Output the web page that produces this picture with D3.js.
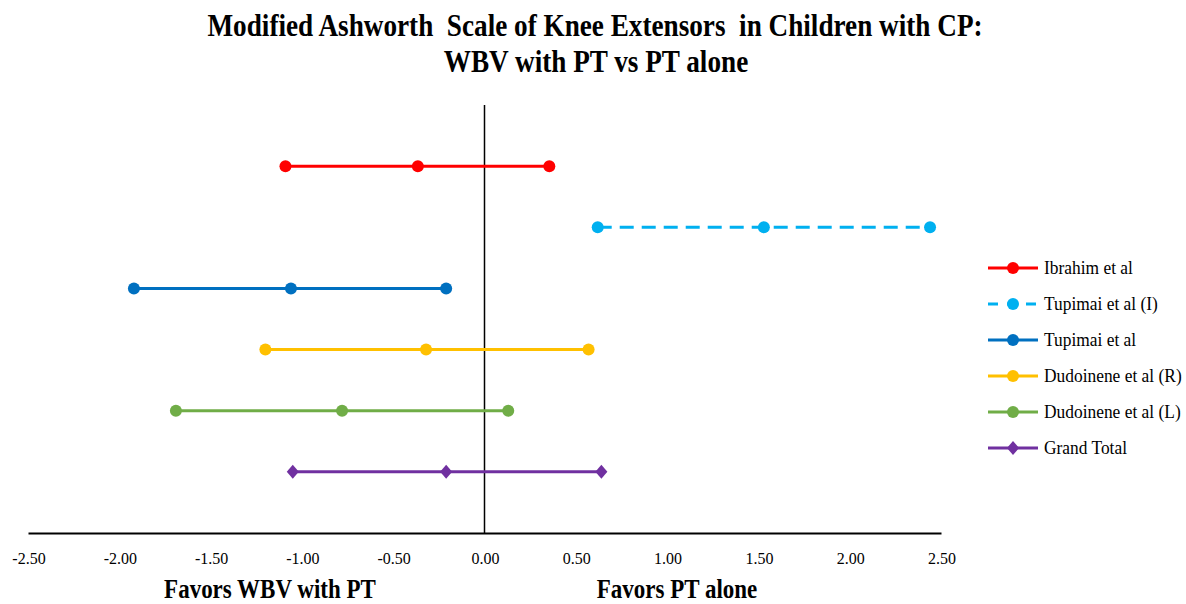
<!DOCTYPE html>
<html>
<head>
<meta charset="utf-8">
<script src="https://cdn.jsdelivr.net/npm/d3@7.9.0/dist/d3.min.js"></script>
<style>
  body { margin: 0; background: #fff; }
  svg { display: block; font-family: 'Liberation Serif', 'Times New Roman', serif; }
</style>
</head>
<body>
<div id="chart"></div>
<script>
// studies, top to bottom, with their row position on the hidden y axis
const studies = ['Ibrahim et al', 'Tupimai et al (I)', 'Tupimai et al', 'Dudoinene et al (R)', 'Dudoinene et al (L)', 'Grand Total'];
const rows = [6, 5, 4, 3, 2, 1];
// lower CI, mean difference, upper CI
const lower = [-1.09, 0.62, -1.92, -1.20, -1.69, -1.05];
const mean = [-0.365, 1.53, -1.06, -0.32, -0.78, -0.21];
const upper = [0.355, 2.44, -0.21, 0.57, 0.13, 0.64];
const colors = ['#FF0000', '#00B0F0', '#0070C0', '#FFC000', '#70AD47', '#7030A0'];
const xTicks = [-2.5, -2, -1.5, -1, -0.5, 0, 0.5, 1, 1.5, 2, 2.5];

const width = 1186;
const height = 604;

const svg = d3.select('#chart')
    .append('svg')
    .attr('width', width)
    .attr('height', height);

const xScale = d3.scaleLinear().domain([-2.5, 2.5]).range([28, 941]);
const yScale = d3.scaleLinear().domain([0, 7]).range([533, 105]);

// text in the original looks a bit stretched vertically, so scale it
function stretchedText(x, y, str, size, sy, anchor, bold) {
    const t = svg.append('g')
        .attr('transform', `translate(${x}, ${y}) scale(1, ${sy})`)
        .append('text')
        .attr('text-anchor', anchor)
        .attr('font-size', size)
        .text(str);
    if (bold) t.attr('font-weight', 'bold');
    return t;
}

// title
stretchedText(595, 36, 'Modified Ashworth  Scale of Knee Extensors  in Children with CP:', 27.2, 1.15, 'middle', true)
    .style('white-space', 'pre');
stretchedText(596, 72, 'WBV with PT vs PT alone', 27.2, 1.15, 'middle', true);

// x axis
const xAxis = svg.append('g')
    .attr('transform', `translate(0, ${yScale(0)})`)
    .call(d3.axisBottom(xScale).tickValues(xTicks).tickSize(0).tickFormat(d => d.toFixed(2)));
xAxis.select('.domain').attr('stroke', '#000').attr('stroke-width', 2);
xAxis.selectAll('.tick text').remove();
xTicks.forEach(t => {
    stretchedText(xScale(t) + 1, 564, t.toFixed(2), 16, 1.1, 'middle', false);
});

// vertical zero line
svg.append('line')
    .attr('x1', xScale(0)).attr('x2', xScale(0))
    .attr('y1', yScale(7)).attr('y2', yScale(0))
    .attr('stroke', '#000').attr('stroke-width', 1.5);

// axis labels
stretchedText(270, 598, 'Favors WBV with PT', 23, 1.2, 'middle', true);
stretchedText(677, 598, 'Favors PT alone', 23, 1.2, 'middle', true);

const diamond = 'M0,-7L6,0L0,7L-6,0Z';

studies.forEach((name, i) => {
    const g = svg.append('g');
    const y = yScale(rows[i]);
    const xs = [lower[i], mean[i], upper[i]];
    g.append('line')
        .attr('x1', xScale(lower[i])).attr('x2', xScale(upper[i]))
        .attr('y1', y).attr('y2', y)
        .attr('stroke', colors[i]).attr('stroke-width', 3)
        .attr('stroke-dasharray', i === 1 ? '14,8' : null);
    if (name === 'Grand Total') {
        g.selectAll('path').data(xs).join('path')
            .attr('d', diamond)
            .attr('transform', d => `translate(${xScale(d)}, ${y})`)
            .attr('fill', colors[i]);
    } else {
        g.selectAll('circle').data(xs).join('circle')
            .attr('cx', d => xScale(d)).attr('cy', y).attr('r', 6)
            .attr('fill', colors[i]);
    }
});

// legend
const legend = svg.append('g').attr('transform', 'translate(988, 268)');
studies.forEach((name, i) => {
    const row = legend.append('g').attr('transform', `translate(0, ${i * 36})`);
    row.append('line')
        .attr('x1', 0).attr('x2', 50).attr('y1', 0).attr('y2', 0)
        .attr('stroke', colors[i]).attr('stroke-width', 3)
        .attr('stroke-dasharray', i === 1 ? '10,9' : null);
    if (name === 'Grand Total') {
        row.append('path').attr('d', diamond).attr('transform', 'translate(25, 0)').attr('fill', colors[i]);
    } else {
        row.append('circle').attr('cx', 25).attr('cy', 0).attr('r', 6).attr('fill', colors[i]);
    }
    row.append('g')
        .attr('transform', 'translate(56, 6) scale(1, 1.12)')
        .append('text')
        .attr('font-size', 17.4)
        .text(name);
});
</script>
</body>
</html>
